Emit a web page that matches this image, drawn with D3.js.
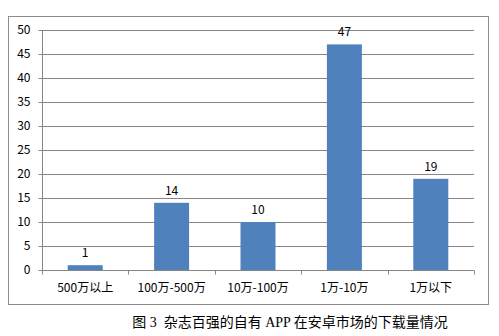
<!DOCTYPE html>
<html><head><meta charset="utf-8">
<script src="https://cdn.jsdelivr.net/npm/d3@7"></script>
<style>body{margin:0;background:#fff;}svg{display:block;}</style>
</head><body>
<script>
const categories = ["500万以上","100万-500万","10万-100万","1万-10万","1万以下"];
const values = [1,14,10,47,19];
const yTicks = [0,5,10,15,20,25,30,35,40,45,50];
const caption = "图 3  杂志百强的自有 APP 在安卓市场的下载量情况";

(function(){
const W = 499, H = 336;
const svg = d3.select("body").append("svg").attr("width", W).attr("height", H);
svg.append("rect").attr("x",8.5).attr("y",16.5).attr("width",480).attr("height",288)
  .attr("fill","#fff").attr("stroke","#8c8c8c").attr("stroke-width",1);

const pL = 42, pR = 474, pT = 30, pB = 270;
const x = d3.scaleBand().domain(categories).range([pL,pR]).paddingInner(0.595).paddingOuter(0.2975);
const xb = d3.scaleBand().domain(categories).range([pL,pR]);
const y = d3.scaleLinear().domain([0,50]).range([pB,pT]);
const font = "'Noto Sans CJK SC', 'DejaVu Sans', sans-serif";

// gridlines
svg.append("g").selectAll("line").data(yTicks.filter(d=>d>0)).join("line")
  .attr("x1",pL).attr("x2",pR).attr("y1",d=>Math.round(y(d))+0.5).attr("y2",d=>Math.round(y(d))+0.5)
  .attr("stroke","#868686").attr("stroke-width",1);

// y axis
const ya = svg.append("g").attr("transform",`translate(${pL+0.5},0)`)
  .call(d3.axisLeft(y).tickValues(yTicks).tickSize(4).tickPadding(8));
ya.select(".domain").attr("stroke","#868686").attr("d",`M0,${pT}V${pB}`);
ya.selectAll(".tick line").attr("stroke","#868686");
ya.selectAll(".tick").attr("transform",d=>`translate(0,${Math.round(y(d))+0.5})`);
ya.selectAll("text").attr("font-family",font).attr("font-size",12).attr("fill","#000");

// x axis
const xa = svg.append("g").attr("transform",`translate(0,${pB+0.5})`);
xa.append("line").attr("x1",pL).attr("x2",pR).attr("stroke","#868686");
const bounds = categories.map(c=>xb(c)).concat([pR]);
xa.selectAll("line.t").data(bounds).join("line").attr("class","t")
  .attr("x1",d=>Math.round(d)+0.5).attr("x2",d=>Math.round(d)+0.5).attr("y1",0).attr("y2",4)
  .attr("stroke","#868686");
xa.selectAll("text").data(categories).join("text")
  .attr("x",d=>xb(d)+xb.bandwidth()/2).attr("y",21)
  .attr("text-anchor","middle").attr("font-family",font).attr("font-size",12).attr("fill","#000")
  .text(d=>d);

// bars
svg.append("g").selectAll("rect").data(values).join("rect")
  .attr("x",(d,i)=>x(categories[i])).attr("width",x.bandwidth())
  .attr("y",d=>y(d)).attr("height",d=>y(0)-y(d)).attr("fill","#4F81BD");

// value labels
svg.append("g").selectAll("text").data(values).join("text")
  .attr("x",(d,i)=>x(categories[i])+x.bandwidth()/2).attr("y",d=>y(d)-8)
  .attr("text-anchor","middle").attr("font-family",font).attr("font-size",12).attr("fill","#000")
  .text(d=>d);

// caption
svg.append("text").attr("x",290).attr("y",327).attr("text-anchor","middle")
  .attr("font-family","'Liberation Serif', 'Noto Sans CJK SC', serif").attr("font-size",14).attr("fill","#000")
  .attr("xml:space","preserve").text(caption);
})();
</script>
</body></html>
